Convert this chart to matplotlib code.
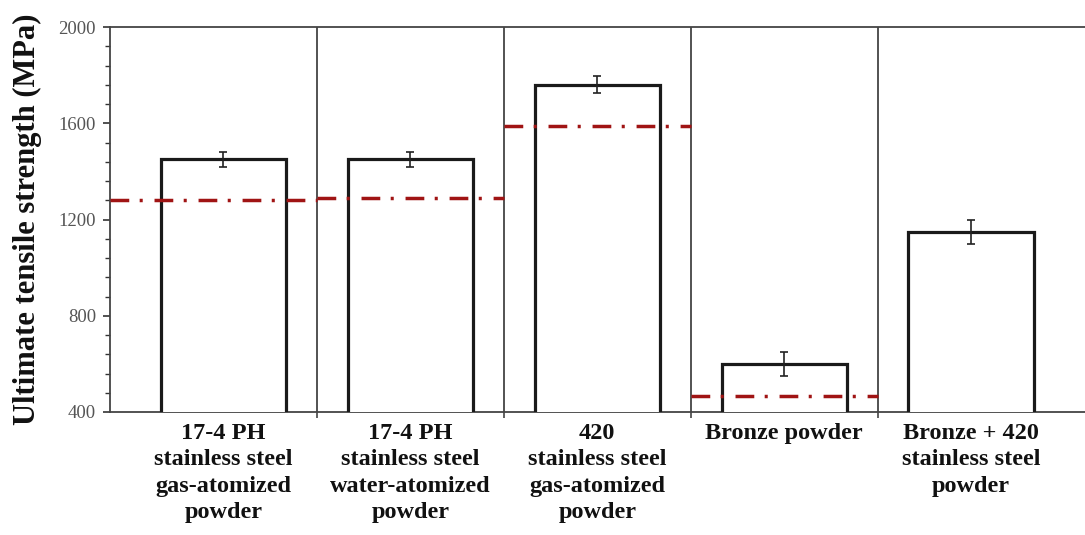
import matplotlib
matplotlib.use("Agg")
import matplotlib.pyplot as plt
import numpy as np

categories = ["17-4 PH\nstainless steel\ngas-atomized\npowder",
              "17-4 PH\nstainless steel\nwater-atomized\npowder",
              "420\nstainless steel\ngas-atomized\npowder",
              "Bronze powder",
              "Bronze + 420\nstainless steel\npowder"]
uts = [1450, 1450, 1760, 600, 1150]
uts_err = [30, 30, 35, 50, 50]
reference = [1280, 1290, 1590, 465, None]

plt.rcParams['font.family'] = ['Liberation Serif', 'DejaVu Serif']
plt.rcParams['lines.scale_dashes'] = False

fig = plt.figure(figsize=(10.85, 5.35), dpi=100)
ax = fig.add_axes([110/1085, 1-412/535, 1-110/1085, (412-27)/535])

x = np.arange(len(categories))
ax.bar(x, uts, width=0.67, bottom=0, facecolor='white', edgecolor='#1a1a1a',
       linewidth=2.3, zorder=3)
ax.errorbar(x, uts, yerr=uts_err, fmt='none', ecolor='#222222', elinewidth=1.2,
            capsize=3, capthick=1.2, zorder=4)

xmin, xmax = -0.607, 4.61
seps = [0.5, 1.5, 2.5, 3.5]
bounds = [xmin] + seps + [xmax]
for i, r in enumerate(reference):
    if r is None:
        continue
    ax.plot([bounds[i], bounds[i+1]], [r, r], color='#a01414', linewidth=2.5,
            linestyle=(0, (13.5, 7.5, 2.2, 8.5)), zorder=5)

for s in seps:
    ax.axvline(s, color='#444444', linewidth=1.3, zorder=2)

ax.set_xlim(xmin, xmax)
ax.set_ylim(400, 2000)
ax.set_yticks([400, 800, 1200, 1600, 2000])
ax.set_yticks(np.arange(400, 2001, 80), minor=True)
ax.tick_params(axis='y', which='major', direction='out', length=5, width=1.2,
               colors='#333333', labelsize=13.5, labelcolor='#555555', pad=5)
ax.tick_params(axis='y', which='minor', direction='out', length=3.5, width=1.0,
               colors='#333333')

ax.set_xticks(seps)
ax.set_xticklabels([''] * len(seps))
ax.tick_params(axis='x', which='major', direction='out', length=4, width=1.2,
               colors='#444444')
ax.set_xticks(x, minor=True)
ax.set_xticklabels(categories, minor=True, fontsize=17.5, fontweight='bold',
                   linespacing=1.33)
ax.tick_params(axis='x', which='minor', length=0, pad=8, labelcolor='#111111')

for sp in ['left', 'top', 'bottom']:
    ax.spines[sp].set_color('#444444')
    ax.spines[sp].set_linewidth(1.3)
ax.spines['right'].set_visible(False)

ax.set_ylabel('Ultimate tensile strength (MPa)', fontsize=22, fontweight='bold',
              labelpad=12, color='#111111')

fig.savefig('out.png', dpi=100)
